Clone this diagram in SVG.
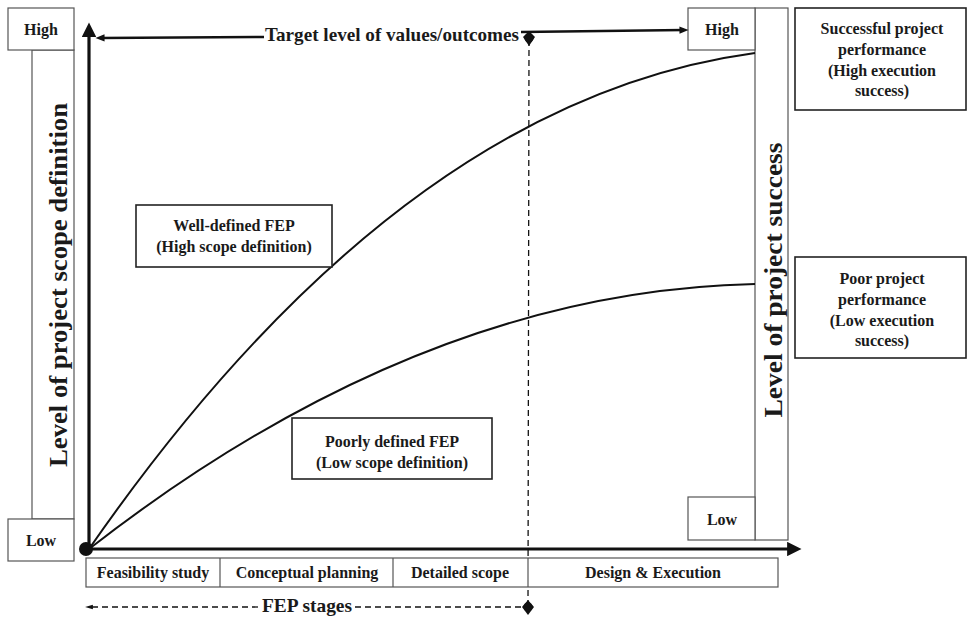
<svg xmlns="http://www.w3.org/2000/svg" width="968" height="618" viewBox="0 0 968 618" font-family="'Liberation Serif', 'Times New Roman', serif">
<style>
  text { font-family: "Liberation Serif", "Times New Roman", serif; font-weight: bold; fill: #1a1a1a; }
  .lbl { font-size: 16px; text-anchor: middle; }
  .big { font-size: 25px; text-anchor: middle; }
  .box { fill: #fff; stroke: #555; stroke-width: 1.2; }
  .tbox { fill: #fff; stroke: #222; stroke-width: 1.6; }
  .axis { stroke: #111; stroke-width: 3.2; fill: none; }
  .curve { stroke: #111; stroke-width: 2; fill: none; }
  .dash { stroke: #111; stroke-width: 1.3; fill: none; stroke-dasharray: 6 4; }
  .thin { stroke: #111; stroke-width: 2.6; fill: none; }
</style>
<defs>
  <marker id="arrBig" viewBox="0 0 10 10" refX="2" refY="5" markerWidth="4.5" markerHeight="4.5" markerUnits="strokeWidth" orient="auto">
    <path d="M0,0 L10,5 L0,10 Z" fill="#111"/>
  </marker>
  <marker id="arrSm" viewBox="0 0 10 10" refX="5" refY="5" markerWidth="3.5" markerHeight="3.5" markerUnits="strokeWidth" orient="auto">
    <path d="M0,1 L10,5 L0,9 Z" fill="#111"/>
  </marker>
  <marker id="arrDash" viewBox="0 0 10 10" refX="5" refY="5" markerWidth="6" markerHeight="6" markerUnits="strokeWidth" orient="auto">
    <path d="M0,2 L10,5 L0,8 Z" fill="#111"/>
  </marker>
</defs>

<g id="left-scale">
  <rect class="box" x="32" y="50" width="42" height="469"/>
  <rect class="box" x="8" y="8" width="66" height="42"/>
  <rect class="box" x="8" y="519" width="66" height="42"/>
  <text class="lbl" x="41" y="35">High</text>
  <text class="lbl" x="41" y="546">Low</text>
  <text class="big" transform="translate(67,285) rotate(-90)" textLength="364" lengthAdjust="spacingAndGlyphs">Level of project scope definition</text>
</g>

<g id="right-scale">
  <rect class="box" x="755" y="8" width="33" height="532"/>
  <rect class="box" x="688" y="8" width="67" height="42"/>
  <rect class="box" x="688" y="497" width="67" height="43"/>
  <text class="lbl" x="722" y="35">High</text>
  <text class="lbl" x="722" y="525">Low</text>
  <text class="big" transform="translate(782,280) rotate(-90)" textLength="275" lengthAdjust="spacingAndGlyphs">Level of project success</text>
</g>

<g id="connectors">
  <line class="axis" x1="89" y1="549" x2="89" y2="34" marker-end="url(#arrBig)"/>
  <line class="axis" x1="86" y1="549" x2="790" y2="549" marker-end="url(#arrBig)"/>
  <path class="curve" d="M89,549 Q400,101 755,53"/>
  <path class="curve" d="M89,549 Q420,291 755,284"/>
  <line class="thin" x1="264" y1="37" x2="100" y2="38" marker-end="url(#arrSm)"/>
  <line class="thin" x1="521" y1="32" x2="684" y2="30" marker-end="url(#arrSm)"/>
  <line class="dash" x1="529" y1="40" x2="528" y2="605"/>
  <line class="dash" x1="258" y1="607" x2="89" y2="607" marker-end="url(#arrDash)"/>
  <line class="dash" x1="355" y1="607" x2="526" y2="607"/>
  <circle cx="86" cy="549" r="7" fill="#111"/>
  <path d="M529,31 L535,37 L529,46 L523,37 Z" fill="#111"/>
  <circle cx="529" cy="38" r="4.5" fill="#111"/>
  <path d="M528,600 L534,607 L528,615 L522,607 Z" fill="#111"/>
  <circle cx="528" cy="607" r="4.5" fill="#111"/>
</g>

<g id="target-label">
  <text x="392" y="41" style="font-size:19px;text-anchor:middle" textLength="254" lengthAdjust="spacingAndGlyphs">Target level of values/outcomes</text>
</g>

<g id="stages">
  <rect class="box" x="86" y="558" width="692" height="29"/>
  <line x1="220" y1="558" x2="220" y2="587" stroke="#555" stroke-width="1.2"/>
  <line x1="393" y1="558" x2="393" y2="587" stroke="#555" stroke-width="1.2"/>
  <line x1="528" y1="558" x2="528" y2="587" stroke="#555" stroke-width="1.2"/>
  <text class="lbl" x="153" y="578">Feasibility study</text>
  <text class="lbl" x="307" y="578">Conceptual planning</text>
  <text class="lbl" x="460" y="578">Detailed scope</text>
  <text class="lbl" x="653" y="578">Design &amp; Execution</text>
</g>

<g id="fep-stages-label">
  <text x="307" y="612" style="font-size:19px;text-anchor:middle" textLength="90" lengthAdjust="spacingAndGlyphs">FEP stages</text>
</g>

<g id="well-defined">
  <rect class="tbox" x="136" y="205" width="196" height="62"/>
  <text class="lbl" x="234" y="231">Well-defined FEP</text>
  <text class="lbl" x="234" y="252">(High scope definition)</text>
</g>

<g id="poorly-defined">
  <rect class="tbox" x="292" y="418" width="200" height="61"/>
  <text class="lbl" x="392" y="447">Poorly defined FEP</text>
  <text class="lbl" x="392" y="468">(Low scope definition)</text>
</g>

<g id="successful">
  <rect class="tbox" x="795" y="8" width="171" height="102"/>
  <text class="lbl" x="882" y="34">Successful project</text>
  <text class="lbl" x="882" y="55">performance</text>
  <text class="lbl" x="882" y="76">(High execution</text>
  <text class="lbl" x="882" y="96">success)</text>
</g>

<g id="poor">
  <rect class="tbox" x="795" y="257" width="171" height="101"/>
  <text class="lbl" x="882" y="284">Poor  project</text>
  <text class="lbl" x="882" y="305">performance</text>
  <text class="lbl" x="882" y="326">(Low execution</text>
  <text class="lbl" x="882" y="346">success)</text>
</g>
</svg>
